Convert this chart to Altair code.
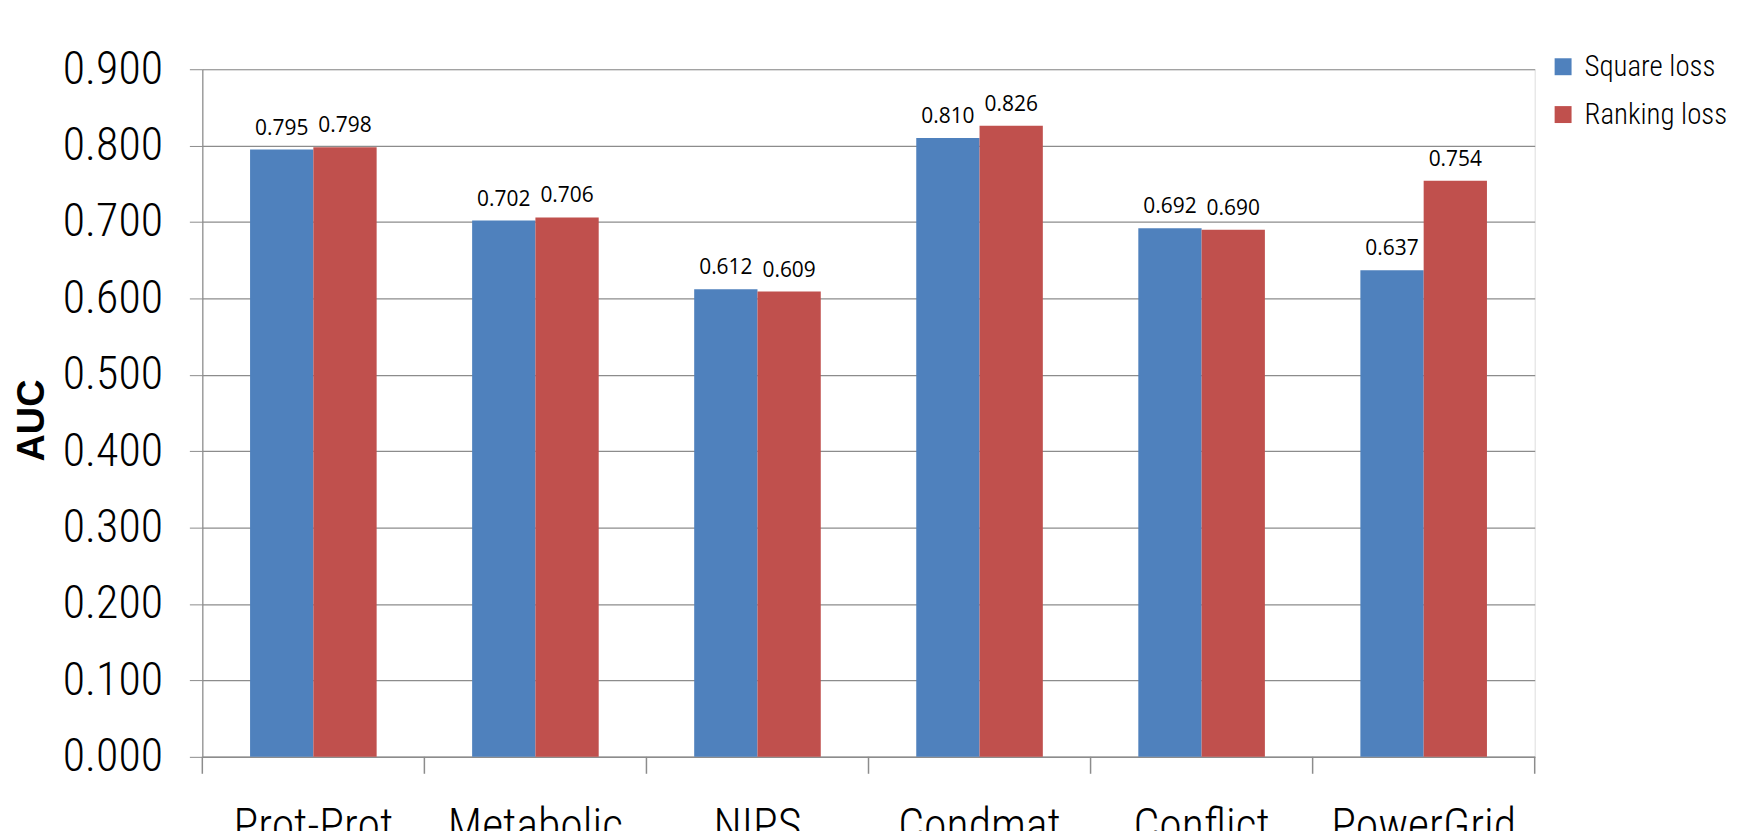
import altair as alt
import pandas as pd

categories = ["Prot-Prot", "Metabolic", "NIPS", "Condmat", "Conflict", "PowerGrid"]
series = ["Square loss", "Ranking loss"]
square_loss = [0.795, 0.702, 0.612, 0.810, 0.692, 0.637]
ranking_loss = [0.798, 0.706, 0.609, 0.826, 0.690, 0.754]
y_ticks = [0.0, 0.1, 0.2, 0.3, 0.4, 0.5, 0.6, 0.7, 0.8, 0.9]
colors = ["#4F81BD", "#C0504D"]

rows = []
for c, a, b in zip(categories, square_loss, ranking_loss):
    rows.append({"cat": c, "series": series[0], "value": a})
    rows.append({"cat": c, "series": series[1], "value": b})
df = pd.DataFrame(rows)

W, H = 1337, 690
NARROW = "Roboto Condensed, Liberation Sans Narrow, DejaVu Sans Condensed, sans-serif"
GROUP_FRAC = 0.57
OFF_PAD = 1 / GROUP_FRAC - 1

xscale = alt.Scale(domain=categories, paddingInner=0, paddingOuter=0)
offscale = alt.Scale(domain=series, paddingInner=0, paddingOuter=OFF_PAD)
yscale = alt.Scale(domain=[0, 0.9], nice=False)

base = alt.Chart(df)

bars = base.mark_bar().encode(
    x=alt.X("cat:N", scale=xscale, sort=categories,
            axis=alt.Axis(title=None, labelAngle=0, ticks=False, labelPadding=48,
                          labelLimit=400,
                          labelFont=NARROW, labelFontSize=46, labelFontWeight=300,
                          labelColor="#000000",
                          domainColor="#8c8c8c", domainWidth=1.5)),
    xOffset=alt.XOffset("series:N", scale=offscale, sort=series),
    y=alt.Y("value:Q", scale=yscale,
            axis=alt.Axis(title="AUC", values=y_ticks, format=".3f",
                          tickSize=13, tickColor="#8c8c8c", labelPadding=27,
                          labelFont=NARROW, labelFontSize=46, labelFontWeight=300,
                          labelColor="#000000",
                          grid=True, gridColor="#8c8c8c", gridWidth=1.2,
                          domainColor="#8c8c8c", domainWidth=1.2,
                          titleFont="Liberation Sans, Arial, sans-serif", titleFontSize=38,
                          titleFontWeight="bold", titleColor="#000000",
                          titleAngle=270, titleX=-159, titleY=352,
                          titleAlign="center", titleBaseline="alphabetic")),
    color=alt.Color("series:N", scale=alt.Scale(domain=series, range=colors),
                    legend=alt.Legend(title=None, orient="none", legendX=1351, legendY=-17,
                                      symbolType="square", symbolSize=289,
                                      symbolStrokeWidth=0, labelFont=NARROW,
                                      labelFontSize=29, labelFontWeight=300,
                                      labelColor="#000000", labelLimit=400,
                                      labelOffset=7, rowPadding=18, padding=0)),
)

labels = base.mark_text(baseline="bottom", dy=-11, font="Open Sans", fontSize=21,
                        color="#000000").encode(
    x=alt.X("cat:N", scale=xscale, sort=categories),
    xOffset=alt.XOffset("series:N", scale=offscale, sort=series),
    y=alt.Y("value:Q", scale=yscale),
    text=alt.Text("value:Q", format=".3f"),
)

tick_df = pd.DataFrame({"cat": categories})
ticks = alt.Chart(tick_df).mark_rule(color="#8c8c8c", strokeWidth=1.5).encode(
    x=alt.X("cat:N", scale=xscale, sort=categories, bandPosition=0),
    y=alt.value(H),
    y2=alt.value(H + 17),
)
end_tick = alt.Chart(tick_df.head(1)).mark_rule(color="#8c8c8c", strokeWidth=1.5).encode(
    x=alt.value(W),
    y=alt.value(H),
    y2=alt.value(H + 17),
)

chart = alt.layer(bars, labels, ticks, end_tick).properties(
    width=W, height=H,
    autosize=alt.AutoSizeParams(type="none"),
    padding={"left": 195, "top": 60, "right": 200, "bottom": 80},
).configure_view(stroke=None).configure(background="#ffffff")

chart.save("out.html", embed_options={"renderer": "svg", "actions": False})
